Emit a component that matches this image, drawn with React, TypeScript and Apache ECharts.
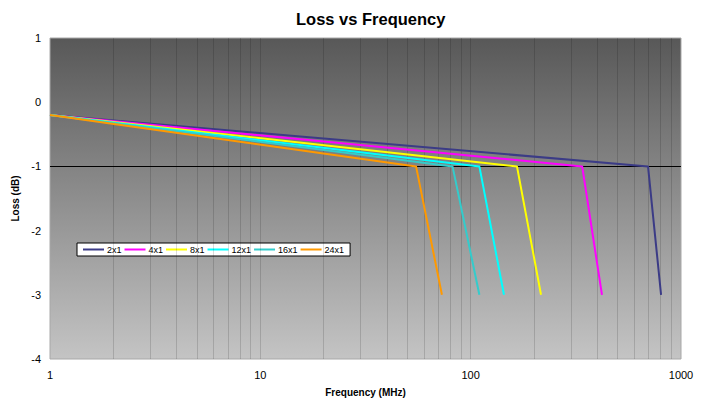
import React, { useEffect, useRef } from "react";
import * as echarts from "echarts";

const seriesNames = ["2x1", "4x1", "8x1", "12x1", "16x1", "24x1"];
const seriesColors = ["#3b3b86", "#ff00ff", "#ffff00", "#00ffff", "#33cccc", "#ff9900"];
const startFreq = 1;
const startLoss = -0.2;
const kneeFreq = [697, 339, 166, 110, 82, 55];
const kneeLoss = -1;
const endFreq = [804, 421, 216, 144, 110, 73];
const endLoss = -3;
const gridFreqs = [2, 3, 4, 5, 6, 7, 8, 9, 10, 20, 30, 40, 50, 60, 70, 80, 90, 100, 200, 300, 400, 500, 600, 700, 800, 900];

export default function App() {
  const ref = useRef<HTMLDivElement>(null);
  useEffect(() => {
    if (!ref.current) return;
    const chart = echarts.init(ref.current, undefined, { renderer: "svg" });
    const font = "Liberation Sans, Arial, sans-serif";
    const series: any[] = seriesNames.map((name, i) => ({
      name,
      type: "line",
      symbol: "none",
      lineStyle: { width: 2, color: seriesColors[i] },
      itemStyle: { color: seriesColors[i] },
      data: [
        [startFreq, startLoss],
        [kneeFreq[i], kneeLoss],
        [endFreq[i], endLoss],
      ],
      z: 5,
    }));
    series.unshift({
      name: "grid",
      type: "line",
      data: [],
      silent: true,
      z: 1,
      markLine: {
        silent: true,
        symbol: "none",
        animation: false,
        label: { show: false },
        data: [
          ...gridFreqs.map((f) => ({
            xAxis: f,
            lineStyle: { color: "rgba(0,0,0,0.14)", width: 1, type: "solid" },
          })),
          { yAxis: -1, lineStyle: { color: "#000", width: 1, type: "solid" } },
        ],
      },
    });
    chart.setOption({
      animation: false,
      backgroundColor: "#fff",
      textStyle: { fontFamily: font },
      title: {
        text: "Loss vs Frequency",
        left: 291,
        top: 5,
        textStyle: { fontSize: 16.5, fontWeight: "bold", color: "#000", fontFamily: font },
      },
      legend: {
        data: seriesNames,
        left: 77,
        top: 243,
        orient: "horizontal",
        icon: "rect",
        itemWidth: 21,
        itemHeight: 2,
        itemGap: 3,
        backgroundColor: "#fff",
        borderColor: "#000",
        borderWidth: 1,
        borderRadius: 0,
        padding: [2, 6],
        textStyle: { fontSize: 9, color: "#000", fontFamily: font, padding: [0, 0, 0, -2] },
      },
      grid: {
        left: 50,
        right: 21,
        top: 38,
        bottom: 41,
        containLabel: false,
        outerBoundsMode: "none",
        show: true,
        borderWidth: 1,
        borderColor: "#a8a8a8",
        backgroundColor: new echarts.graphic.LinearGradient(0, 0, 0, 1, [
          { offset: 0, color: "#585858" },
          { offset: 1, color: "#c4c4c4" },
        ]),
      },
      xAxis: {
        type: "log",
        logBase: 10,
        min: 1,
        max: 1000,
        name: "Frequency (MHz)",
        nameLocation: "middle",
        nameGap: 28,
        nameTextStyle: { fontSize: 10, fontWeight: "bold", color: "#000", fontFamily: font },
        axisLine: { show: false },
        axisTick: { show: false },
        splitLine: { show: false },
        axisLabel: {
          fontSize: 11,
          color: "#000",
          margin: 10,
          fontFamily: font,
          formatter: (v: number) => String(Math.round(v)),
        },
      },
      yAxis: {
        type: "value",
        min: -4,
        max: 1,
        interval: 1,
        name: "Loss (dB)",
        nameLocation: "middle",
        nameGap: 28,
        nameTextStyle: { fontSize: 10, fontWeight: "bold", color: "#000", fontFamily: font },
        axisLine: { show: false },
        axisTick: { show: false },
        splitLine: { show: false },
        axisLabel: { fontSize: 11, color: "#000", margin: 9, fontFamily: font },
      },
      series,
    });
    return () => chart.dispose();
  }, []);
  return (
    <div
      ref={ref}
      style={{ position: "fixed", left: 0, top: 0, width: 702, height: 400 }}
    />
  );
}
